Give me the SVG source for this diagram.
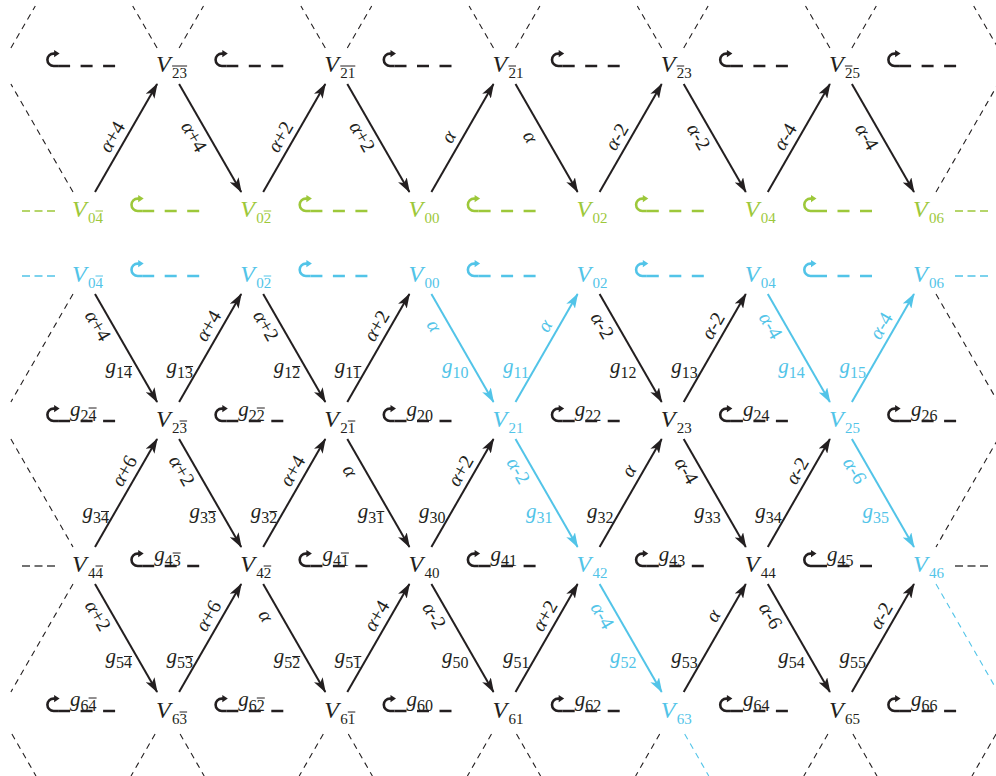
<svg xmlns="http://www.w3.org/2000/svg" width="996" height="776" viewBox="0 0 996 776">
<style>
text{font-family:"Liberation Serif","Times New Roman",serif}
.v{font-size:24px;font-style:italic}
.s{font-size:15px}
.g{font-size:21px;font-style:italic}
.gs{font-size:16px}
.a{font-size:20px;text-anchor:middle}
.i{font-style:italic}
.k{fill:#231f20;color:#231f20}
.gr{fill:#9dc83a;color:#9dc83a}
.cy{fill:#52c4e8;color:#52c4e8}
.ov{stroke:currentColor;stroke-width:1;fill:none}
.ar{fill:none;stroke-width:2}
.ark{stroke:#231f20;marker-end:url(#mk)}
.arc{stroke:#52c4e8;marker-end:url(#mc)}
.hx{fill:none;stroke:#231f20;stroke-width:1.1;stroke-dasharray:6 5}
.hxc{stroke:#52c4e8}
.sd{fill:none;stroke-width:1.4;stroke-dasharray:8 4.5}
</style>
<defs>
<marker id="mk" viewBox="0 0 15 10" refX="14" refY="5" markerWidth="15" markerHeight="10" markerUnits="userSpaceOnUse" orient="auto"><path d="M0,0 L15,5 L0,10 L3.5,5 Z" fill="#231f20"/></marker>
<marker id="mc" viewBox="0 0 15 10" refX="14" refY="5" markerWidth="15" markerHeight="10" markerUnits="userSpaceOnUse" orient="auto"><path d="M0,0 L15,5 L0,10 L3.5,5 Z" fill="#52c4e8"/></marker>
<g id="lp"><path d="M11,0 H6.5 A6.2 6.2 0 0 1 6.5,-12.4 H8" fill="none" stroke="currentColor" stroke-width="2.6"/><path d="M7,-16 L12.5,-12.4 L7,-8.8 Z" fill="currentColor" stroke="none"/><path d="M11,0 H68" fill="none" stroke="currentColor" stroke-width="2.6" stroke-dasharray="12 10.5"/></g>
</defs>

<!-- connectors -->
<g id="connectors">
<g id="boundary">
<path class="hx" d="M10.9,48 L35.3,6"/>
<path class="hx" d="M157.1,48 L132.7,6 M179.1,48 L203.5,6"/>
<path class="hx" d="M325.3,48 L300.9,6 M347.3,48 L371.7,6"/>
<path class="hx" d="M493.5,48 L469.1,6 M515.5,48 L539.9,6"/>
<path class="hx" d="M661.7,48 L637.3,6 M683.7,48 L708.1,6"/>
<path class="hx" d="M829.9,48 L805.5,6 M851.9,48 L876.3,6"/>
<path class="hx" d="M998.1,48 L973.7,6"/>
<path class="hx" d="M73,192 L10.9,84"/>
<path class="hx" d="M936,192 L998,84"/>
<path class="hx" d="M73,294 L10.9,402"/>
<path class="hx" d="M936,294 L998,402"/>
<path class="hx" d="M10.9,439 L73,547"/>
<path class="hx" d="M998,439 L936,547"/>
<path class="hx" d="M73,584 L10.9,692"/>
<path class="hx hxc" d="M936,584 L998,692"/>
<path class="hx" d="M11.9,734 L36,776"/>
<path class="hx" d="M155.1,734 L131,776 M180.1,734 L204.2,776"/>
<path class="hx" d="M323.3,734 L299.2,776 M348.3,734 L372.4,776"/>
<path class="hx" d="M491.5,734 L467.4,776 M516.5,734 L540.6,776"/>
<path class="hx" d="M659.7,734 L635.6,776"/>
<path class="hx hxc" d="M684.7,734 L708.8,776"/>
<path class="hx" d="M827.9,734 L803.8,776 M852.9,734 L877,776"/>
<path class="hx" d="M996.1,734 L972,776"/>
<path class="sd" stroke="#9dc83a" d="M22,211 H55 M955,211 H990"/>
<path class="sd" stroke="#52c4e8" d="M22,276 H55 M955,276 H990"/>
<path class="sd" stroke="#444" d="M22,566 H55 M955,566 H990"/>
</g>

<g id="loops">
<use href="#lp" x="47.1" y="66" class="k"/>
<use href="#lp" x="215.3" y="66" class="k"/>
<use href="#lp" x="383.5" y="66" class="k"/>
<use href="#lp" x="551.7" y="66" class="k"/>
<use href="#lp" x="719.9" y="66" class="k"/>
<use href="#lp" x="888.1" y="66" class="k"/>

<use href="#lp" x="131.2" y="211" class="gr"/>
<use href="#lp" x="299.4" y="211" class="gr"/>
<use href="#lp" x="467.6" y="211" class="gr"/>
<use href="#lp" x="635.8" y="211" class="gr"/>
<use href="#lp" x="804" y="211" class="gr"/>

<use href="#lp" x="131.2" y="276" class="cy"/>
<use href="#lp" x="299.4" y="276" class="cy"/>
<use href="#lp" x="467.6" y="276" class="cy"/>
<use href="#lp" x="635.8" y="276" class="cy"/>
<use href="#lp" x="804" y="276" class="cy"/>

<g class="k">
<use href="#lp" x="47.1" y="421"/><text class="g" x="70.1" y="415.5">g</text><text class="gs" x="80.6" y="420.5">24</text><path class="ov" d="M88.6,408H96.6"/>
<use href="#lp" x="215.3" y="421"/><text class="g" x="238.3" y="415.5">g</text><text class="gs" x="248.8" y="420.5">22</text><path class="ov" d="M256.8,408H264.8"/>
<use href="#lp" x="383.5" y="421"/><text class="g" x="406.5" y="415.5">g</text><text class="gs" x="417" y="420.5">20</text>
<use href="#lp" x="551.7" y="421"/><text class="g" x="574.7" y="415.5">g</text><text class="gs" x="585.2" y="420.5">22</text>
<use href="#lp" x="719.9" y="421"/><text class="g" x="742.9" y="415.5">g</text><text class="gs" x="753.4" y="420.5">24</text>
<use href="#lp" x="888.1" y="421"/><text class="g" x="911.1" y="415.5">g</text><text class="gs" x="921.6" y="420.5">26</text>

<use href="#lp" x="131.2" y="566"/><text class="g" x="154.2" y="560.5">g</text><text class="gs" x="164.7" y="565.5">43</text><path class="ov" d="M172.7,553H180.7"/>
<use href="#lp" x="299.4" y="566"/><text class="g" x="322.4" y="560.5">g</text><text class="gs" x="332.9" y="565.5">41</text><path class="ov" d="M340.9,553H348.9"/>
<use href="#lp" x="467.6" y="566"/><text class="g" x="490.6" y="560.5">g</text><text class="gs" x="501.1" y="565.5">41</text>
<use href="#lp" x="635.8" y="566"/><text class="g" x="658.8" y="560.5">g</text><text class="gs" x="669.3" y="565.5">43</text>
<use href="#lp" x="804" y="566"/><text class="g" x="827" y="560.5">g</text><text class="gs" x="837.5" y="565.5">45</text>

<use href="#lp" x="47.1" y="711"/><text class="g" x="70.1" y="705.5">g</text><text class="gs" x="80.6" y="710.5">64</text><path class="ov" d="M88.6,698H96.6"/>
<use href="#lp" x="215.3" y="711"/><text class="g" x="238.3" y="705.5">g</text><text class="gs" x="248.8" y="710.5">62</text><path class="ov" d="M256.8,698H264.8"/>
<use href="#lp" x="383.5" y="711"/><text class="g" x="406.5" y="705.5">g</text><text class="gs" x="417" y="710.5">60</text>
<use href="#lp" x="551.7" y="711"/><text class="g" x="574.7" y="705.5">g</text><text class="gs" x="585.2" y="710.5">62</text>
<use href="#lp" x="719.9" y="711"/><text class="g" x="742.9" y="705.5">g</text><text class="gs" x="753.4" y="710.5">64</text>
<use href="#lp" x="888.1" y="711"/><text class="g" x="911.1" y="705.5">g</text><text class="gs" x="921.6" y="710.5">66</text>
</g>
</g>

<g class="k">
<path class="ar ark" d="M95,192 L157.1,84"/><text class="a" transform="translate(112.6 137) rotate(-60)" y="6"><tspan class="i">α</tspan>+4</text>
<path class="ar ark" d="M179.1,84 L241.2,192"/><text class="a" transform="translate(193.6 137) rotate(60)" y="6"><tspan class="i">α</tspan>+4</text>
<path class="ar ark" d="M263.2,192 L325.3,84"/><text class="a" transform="translate(280.8 137) rotate(-60)" y="6"><tspan class="i">α</tspan>+2</text>
<path class="ar ark" d="M347.3,84 L409.4,192"/><text class="a" transform="translate(361.8 137) rotate(60)" y="6"><tspan class="i">α</tspan>+2</text>
<path class="ar ark" d="M431.4,192 L493.5,84"/><text class="a" transform="translate(449 137) rotate(-60)" y="6"><tspan class="i">α</tspan></text>
<path class="ar ark" d="M515.5,84 L577.6,192"/><text class="a" transform="translate(530 137) rotate(60)" y="6"><tspan class="i">α</tspan></text>
<path class="ar ark" d="M599.6,192 L661.7,84"/><text class="a" transform="translate(617.2 137) rotate(-60)" y="6"><tspan class="i">α</tspan>-2</text>
<path class="ar ark" d="M683.7,84 L745.8,192"/><text class="a" transform="translate(698.2 137) rotate(60)" y="6"><tspan class="i">α</tspan>-2</text>
<path class="ar ark" d="M767.8,192 L829.9,84"/><text class="a" transform="translate(785.4 137) rotate(-60)" y="6"><tspan class="i">α</tspan>-4</text>
<path class="ar ark" d="M851.9,84 L914,192"/><text class="a" transform="translate(866.4 137) rotate(60)" y="6"><tspan class="i">α</tspan>-4</text>
</g>

<g class="k">
<path class="ar ark" d="M95,294 L157.1,402"/><text class="a" transform="translate(97.4 326) rotate(60)" y="6"><tspan class="i">α</tspan>+4</text>
<text class="g" x="105.5" y="373">g</text><text class="gs" x="116" y="378">14</text><path class="ov" d="M124,366.5H132"/>
<path class="ar ark" d="M179.1,402 L241.2,294"/><text class="a" transform="translate(208.8 326) rotate(-60)" y="6"><tspan class="i">α</tspan>+4</text>
<text class="g" x="166.6" y="373">g</text><text class="gs" x="177.1" y="378">13</text><path class="ov" d="M185.1,366.5H193.1"/>
<path class="ar ark" d="M263.2,294 L325.3,402"/><text class="a" transform="translate(265.6 326) rotate(60)" y="6"><tspan class="i">α</tspan>+2</text>
<text class="g" x="273.7" y="373">g</text><text class="gs" x="284.2" y="378">12</text><path class="ov" d="M292.2,366.5H300.2"/>
<path class="ar ark" d="M347.3,402 L409.4,294"/><text class="a" transform="translate(377 326) rotate(-60)" y="6"><tspan class="i">α</tspan>+2</text>
<text class="g" x="334.8" y="373">g</text><text class="gs" x="345.3" y="378">11</text><path class="ov" d="M353.3,366.5H361.3"/>
<path class="ar ark" d="M599.6,294 L661.7,402"/><text class="a" transform="translate(602 326) rotate(60)" y="6"><tspan class="i">α</tspan>-2</text>
<text class="g" x="610.1" y="373">g</text><text class="gs" x="620.6" y="378">12</text>
<path class="ar ark" d="M683.7,402 L745.8,294"/><text class="a" transform="translate(713.4 326) rotate(-60)" y="6"><tspan class="i">α</tspan>-2</text>
<text class="g" x="671.2" y="373">g</text><text class="gs" x="681.7" y="378">13</text>
</g>
<g class="cy">
<path class="ar arc" d="M431.4,294 L493.5,402"/><text class="a" transform="translate(433.8 326) rotate(60)" y="6"><tspan class="i">α</tspan></text>
<text class="g" x="441.9" y="373">g</text><text class="gs" x="452.4" y="378">10</text>
<path class="ar arc" d="M515.5,402 L577.6,294"/><text class="a" transform="translate(545.2 326) rotate(-60)" y="6"><tspan class="i">α</tspan></text>
<text class="g" x="503" y="373">g</text><text class="gs" x="513.5" y="378">11</text>
<path class="ar arc" d="M767.8,294 L829.9,402"/><text class="a" transform="translate(770.2 326) rotate(60)" y="6"><tspan class="i">α</tspan>-4</text>
<text class="g" x="778.3" y="373">g</text><text class="gs" x="788.8" y="378">14</text>
<path class="ar arc" d="M851.9,402 L914,294"/><text class="a" transform="translate(881.6 326) rotate(-60)" y="6"><tspan class="i">α</tspan>-4</text>
<text class="g" x="839.4" y="373">g</text><text class="gs" x="849.9" y="378">15</text>
</g>

<g class="k">
<path class="ar ark" d="M95,547 L157.1,439"/><text class="a" transform="translate(124.7 471) rotate(-60)" y="6"><tspan class="i">α</tspan>+6</text>
<text class="g" x="82.5" y="518">g</text><text class="gs" x="93" y="523">34</text><path class="ov" d="M101,511.5H109"/>
<path class="ar ark" d="M179.1,439 L241.2,547"/><text class="a" transform="translate(181.5 471) rotate(60)" y="6"><tspan class="i">α</tspan>+2</text>
<text class="g" x="189.6" y="518">g</text><text class="gs" x="200.1" y="523">33</text><path class="ov" d="M208.1,511.5H216.1"/>
<path class="ar ark" d="M263.2,547 L325.3,439"/><text class="a" transform="translate(292.9 471) rotate(-60)" y="6"><tspan class="i">α</tspan>+4</text>
<text class="g" x="250.7" y="518">g</text><text class="gs" x="261.2" y="523">32</text><path class="ov" d="M269.2,511.5H277.2"/>
<path class="ar ark" d="M347.3,439 L409.4,547"/><text class="a" transform="translate(349.7 471) rotate(60)" y="6"><tspan class="i">α</tspan></text>
<text class="g" x="357.8" y="518">g</text><text class="gs" x="368.3" y="523">31</text><path class="ov" d="M376.3,511.5H384.3"/>
<path class="ar ark" d="M431.4,547 L493.5,439"/><text class="a" transform="translate(461.1 471) rotate(-60)" y="6"><tspan class="i">α</tspan>+2</text>
<text class="g" x="418.9" y="518">g</text><text class="gs" x="429.4" y="523">30</text>
<path class="ar ark" d="M599.6,547 L661.7,439"/><text class="a" transform="translate(629.3 471) rotate(-60)" y="6"><tspan class="i">α</tspan></text>
<text class="g" x="587.1" y="518">g</text><text class="gs" x="597.6" y="523">32</text>
<path class="ar ark" d="M683.7,439 L745.8,547"/><text class="a" transform="translate(686.1 471) rotate(60)" y="6"><tspan class="i">α</tspan>-4</text>
<text class="g" x="694.2" y="518">g</text><text class="gs" x="704.7" y="523">33</text>
<path class="ar ark" d="M767.8,547 L829.9,439"/><text class="a" transform="translate(797.5 471) rotate(-60)" y="6"><tspan class="i">α</tspan>-2</text>
<text class="g" x="755.3" y="518">g</text><text class="gs" x="765.8" y="523">34</text>
</g>
<g class="cy">
<path class="ar arc" d="M515.5,439 L577.6,547"/><text class="a" transform="translate(517.9 471) rotate(60)" y="6"><tspan class="i">α</tspan>-2</text>
<text class="g" x="526" y="518">g</text><text class="gs" x="536.5" y="523">31</text>
<path class="ar arc" d="M851.9,439 L914,547"/><text class="a" transform="translate(854.3 471) rotate(60)" y="6"><tspan class="i">α</tspan>-6</text>
<text class="g" x="862.4" y="518">g</text><text class="gs" x="872.9" y="523">35</text>
</g>

<g class="k">
<path class="ar ark" d="M95,584 L157.1,692"/><text class="a" transform="translate(97.4 616) rotate(60)" y="6"><tspan class="i">α</tspan>+2</text>
<text class="g" x="105.5" y="663">g</text><text class="gs" x="116" y="668">54</text><path class="ov" d="M124,656.5H132"/>
<path class="ar ark" d="M179.1,692 L241.2,584"/><text class="a" transform="translate(208.8 616) rotate(-60)" y="6"><tspan class="i">α</tspan>+6</text>
<text class="g" x="166.6" y="663">g</text><text class="gs" x="177.1" y="668">53</text><path class="ov" d="M185.1,656.5H193.1"/>
<path class="ar ark" d="M263.2,584 L325.3,692"/><text class="a" transform="translate(265.6 616) rotate(60)" y="6"><tspan class="i">α</tspan></text>
<text class="g" x="273.7" y="663">g</text><text class="gs" x="284.2" y="668">52</text><path class="ov" d="M292.2,656.5H300.2"/>
<path class="ar ark" d="M347.3,692 L409.4,584"/><text class="a" transform="translate(377 616) rotate(-60)" y="6"><tspan class="i">α</tspan>+4</text>
<text class="g" x="334.8" y="663">g</text><text class="gs" x="345.3" y="668">51</text><path class="ov" d="M353.3,656.5H361.3"/>
<path class="ar ark" d="M431.4,584 L493.5,692"/><text class="a" transform="translate(433.8 616) rotate(60)" y="6"><tspan class="i">α</tspan>-2</text>
<text class="g" x="441.9" y="663">g</text><text class="gs" x="452.4" y="668">50</text>
<path class="ar ark" d="M515.5,692 L577.6,584"/><text class="a" transform="translate(545.2 616) rotate(-60)" y="6"><tspan class="i">α</tspan>+2</text>
<text class="g" x="503" y="663">g</text><text class="gs" x="513.5" y="668">51</text>
<path class="ar ark" d="M683.7,692 L745.8,584"/><text class="a" transform="translate(713.4 616) rotate(-60)" y="6"><tspan class="i">α</tspan></text>
<text class="g" x="671.2" y="663">g</text><text class="gs" x="681.7" y="668">53</text>
<path class="ar ark" d="M767.8,584 L829.9,692"/><text class="a" transform="translate(770.2 616) rotate(60)" y="6"><tspan class="i">α</tspan>-6</text>
<text class="g" x="778.3" y="663">g</text><text class="gs" x="788.8" y="668">54</text>
<path class="ar ark" d="M851.9,692 L914,584"/><text class="a" transform="translate(881.6 616) rotate(-60)" y="6"><tspan class="i">α</tspan>-2</text>
<text class="g" x="839.4" y="663">g</text><text class="gs" x="849.9" y="668">55</text>
</g>
<g class="cy">
<path class="ar arc" d="M599.6,584 L661.7,692"/><text class="a" transform="translate(602 616) rotate(60)" y="6"><tspan class="i">α</tspan>-4</text>
<text class="g" x="610.1" y="663">g</text><text class="gs" x="620.6" y="668">52</text>
</g>
</g>

<g id="V-m2-m3" class="k"><text class="v" x="156.1" y="72">V</text><text class="s" x="172.1" y="78">23</text><path class="ov" d="M172.1,66H187.1"/></g>
<g id="V-m2-m1" class="k"><text class="v" x="324.3" y="72">V</text><text class="s" x="340.3" y="78">21</text><path class="ov" d="M340.3,66H355.3"/></g>
<g id="V-m2-1" class="k"><text class="v" x="492.5" y="72">V</text><text class="s" x="508.5" y="78">21</text><path class="ov" d="M508.5,66H516"/></g>
<g id="V-m2-3" class="k"><text class="v" x="660.7" y="72">V</text><text class="s" x="676.7" y="78">23</text><path class="ov" d="M676.7,66H684.2"/></g>
<g id="V-m2-5" class="k"><text class="v" x="828.9" y="72">V</text><text class="s" x="844.9" y="78">25</text><path class="ov" d="M844.9,66H852.4"/></g>

<g id="Vg-0-m4" class="gr"><text class="v" x="72" y="217">V</text><text class="s" x="88" y="223">04</text><path class="ov" d="M95.5,211H103"/></g>
<g id="Vg-0-m2" class="gr"><text class="v" x="240.2" y="217">V</text><text class="s" x="256.2" y="223">02</text><path class="ov" d="M263.7,211H271.2"/></g>
<g id="Vg-0-0" class="gr"><text class="v" x="408.4" y="217">V</text><text class="s" x="424.4" y="223">00</text></g>
<g id="Vg-0-2" class="gr"><text class="v" x="576.6" y="217">V</text><text class="s" x="592.6" y="223">02</text></g>
<g id="Vg-0-4" class="gr"><text class="v" x="744.8" y="217">V</text><text class="s" x="760.8" y="223">04</text></g>
<g id="Vg-0-6" class="gr"><text class="v" x="913" y="217">V</text><text class="s" x="929" y="223">06</text></g>

<g id="Vc-0-m4" class="cy"><text class="v" x="72" y="282">V</text><text class="s" x="88" y="288">04</text><path class="ov" d="M95.5,276H103"/></g>
<g id="Vc-0-m2" class="cy"><text class="v" x="240.2" y="282">V</text><text class="s" x="256.2" y="288">02</text><path class="ov" d="M263.7,276H271.2"/></g>
<g id="Vc-0-0" class="cy"><text class="v" x="408.4" y="282">V</text><text class="s" x="424.4" y="288">00</text></g>
<g id="Vc-0-2" class="cy"><text class="v" x="576.6" y="282">V</text><text class="s" x="592.6" y="288">02</text></g>
<g id="Vc-0-4" class="cy"><text class="v" x="744.8" y="282">V</text><text class="s" x="760.8" y="288">04</text></g>
<g id="Vc-0-6" class="cy"><text class="v" x="913" y="282">V</text><text class="s" x="929" y="288">06</text></g>

<g id="V-2-m3" class="k"><text class="v" x="156.1" y="427">V</text><text class="s" x="172.1" y="433">23</text><path class="ov" d="M179.6,421H187.1"/></g>
<g id="V-2-m1" class="k"><text class="v" x="324.3" y="427">V</text><text class="s" x="340.3" y="433">21</text><path class="ov" d="M347.8,421H355.3"/></g>
<g id="V-2-1" class="cy"><text class="v" x="492.5" y="427">V</text><text class="s" x="508.5" y="433">21</text></g>
<g id="V-2-3" class="k"><text class="v" x="660.7" y="427">V</text><text class="s" x="676.7" y="433">23</text></g>
<g id="V-2-5" class="cy"><text class="v" x="828.9" y="427">V</text><text class="s" x="844.9" y="433">25</text></g>

<g id="V-4-m4" class="k"><text class="v" x="72" y="572">V</text><text class="s" x="88" y="578">44</text><path class="ov" d="M95.5,566H103"/></g>
<g id="V-4-m2" class="k"><text class="v" x="240.2" y="572">V</text><text class="s" x="256.2" y="578">42</text><path class="ov" d="M263.7,566H271.2"/></g>
<g id="V-4-0" class="k"><text class="v" x="408.4" y="572">V</text><text class="s" x="424.4" y="578">40</text></g>
<g id="V-4-2" class="cy"><text class="v" x="576.6" y="572">V</text><text class="s" x="592.6" y="578">42</text></g>
<g id="V-4-4" class="k"><text class="v" x="744.8" y="572">V</text><text class="s" x="760.8" y="578">44</text></g>
<g id="V-4-6" class="cy"><text class="v" x="913" y="572">V</text><text class="s" x="929" y="578">46</text></g>

<g id="V-6-m3" class="k"><text class="v" x="156.1" y="718">V</text><text class="s" x="172.1" y="724">63</text><path class="ov" d="M179.6,712H187.1"/></g>
<g id="V-6-m1" class="k"><text class="v" x="324.3" y="718">V</text><text class="s" x="340.3" y="724">61</text><path class="ov" d="M347.8,712H355.3"/></g>
<g id="V-6-1" class="k"><text class="v" x="492.5" y="718">V</text><text class="s" x="508.5" y="724">61</text></g>
<g id="V-6-3" class="cy"><text class="v" x="660.7" y="718">V</text><text class="s" x="676.7" y="724">63</text></g>
<g id="V-6-5" class="k"><text class="v" x="828.9" y="718">V</text><text class="s" x="844.9" y="724">65</text></g>
</svg>
